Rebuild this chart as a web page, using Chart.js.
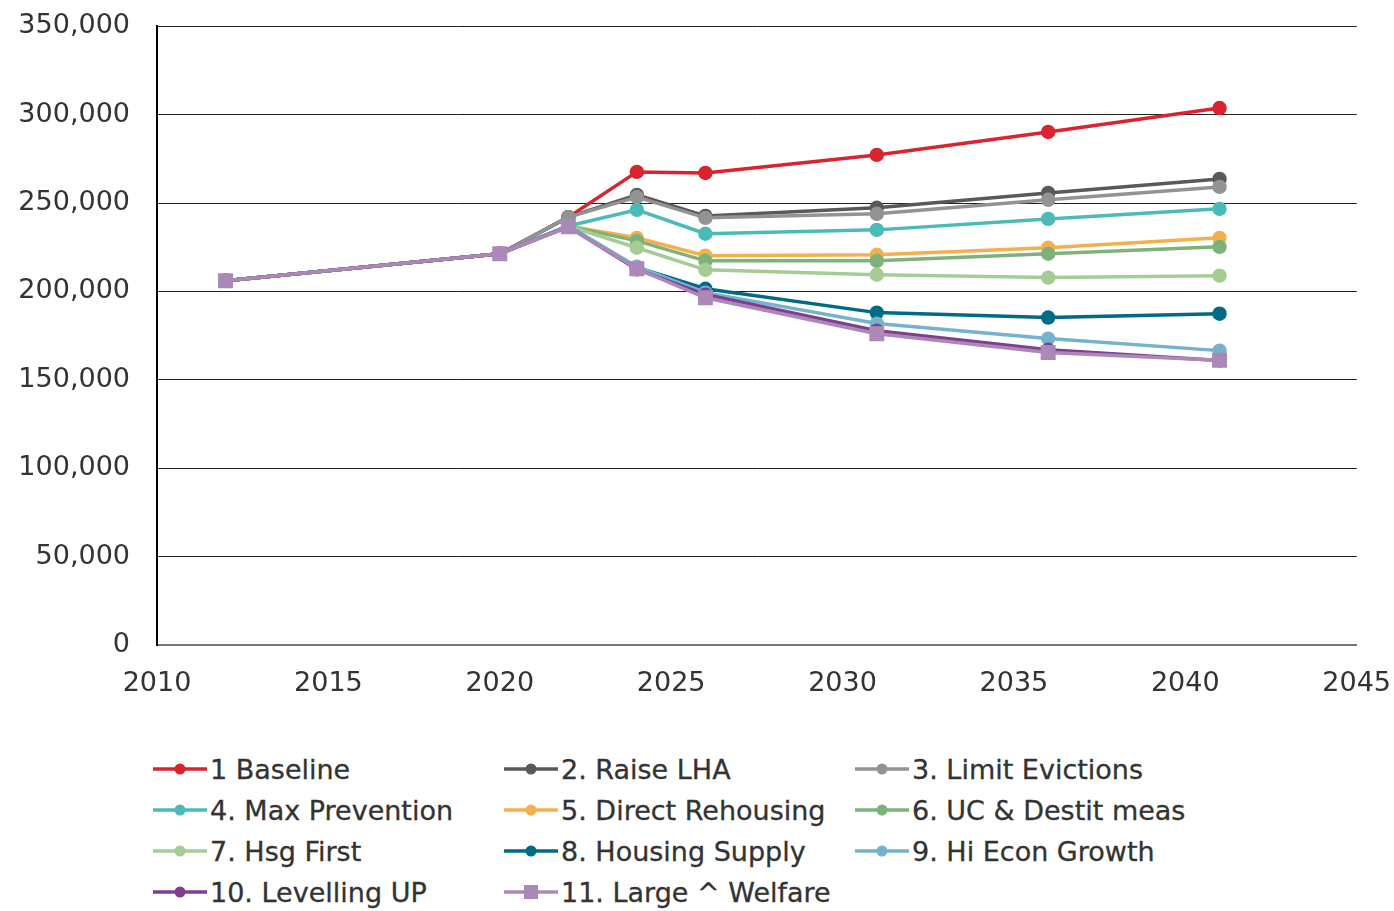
<!DOCTYPE html>
<html>
<head>
  <title>Homelessness scenarios</title>
  <script src="https://cdn.jsdelivr.net/npm/chart.js@4.4.0/dist/chart.umd.min.js"></script>
  <style>
    body { margin: 0; background: #fff; font-family: "DejaVu Sans", sans-serif; overflow: hidden; }
    #wrap { position: relative; width: 1394px; height: 911px; overflow: hidden; }
    #chart { position: absolute; left: 0; top: -17px; }
    #legend { position: absolute; left: 153px; top: 753px; display: grid; grid-template-columns: 351px 351px 351px; row-gap: 9px; }
    .item { display: flex; align-items: center; height: 32px; font-size: 27px; color: #333; white-space: nowrap; -webkit-text-stroke: 0.3px #333; }
    .item svg { margin-right: 3px; }
  </style>
</head>
<body>
<div id="wrap">
  <canvas id="chart" width="1414" height="737"></canvas>
  <div id="legend"></div>
</div>
<script>
  // years of each data point
  const years = [2012, 2020, 2022, 2024, 2026, 2031, 2036, 2041];

  const names = ['1 Baseline', '2. Raise LHA', '3. Limit Evictions', '4. Max Prevention',
    '5. Direct Rehousing', '6. UC & Destit meas', '7. Hsg First', '8. Housing Supply',
    '9. Hi Econ Growth', '10. Levelling UP', '11. Large ^ Welfare'];

  const colors = ['#d9232e', '#595959', '#939393', '#4bbbb9', '#f5b04e', '#7db37b',
    '#a5cc94', '#006a87', '#73b3cd', '#7f3f8e', '#ac88b8'];

  const baseline      = [206000, 221300, 242000, 267600, 267000, 277200, 290200, 303700];
  const raiseLHA      = [206000, 221300, 242000, 254600, 242700, 247300, 255700, 263600];
  const limitEvict    = [206000, 221300, 242000, 253400, 241600, 243900, 251800, 259100];
  const maxPrevention = [206000, 221300, 237000, 246100, 232600, 234800, 241000, 246700];
  const directRehouse = [206000, 221300, 237000, 230300, 220200, 220700, 224700, 230300];
  const ucDestit      = [206000, 221300, 237000, 228600, 217300, 217300, 221300, 225200];
  const hsgFirst      = [206000, 221300, 237000, 224700, 212200, 209400, 207800, 208900];
  const housingSupply = [206000, 221300, 237000, 213500, 201500, 188000, 185200, 187400];
  const hiEcon        = [206000, 221300, 237000, 214000, 199300, 181800, 173300, 166500];
  const levellingUp   = [206000, 221300, 236500, 212500, 198200, 177800, 167000, 160900];
  const largeWelfare  = [206000, 221300, 236500, 212800, 196400, 176100, 165500, 161000];

  const series = [baseline, raiseLHA, limitEvict, maxPrevention, directRehouse, ucDestit,
    hsgFirst, housingSupply, hiEcon, levellingUp, largeWelfare];

  const datasets = series.map((vals, i) => ({
    label: names[i],
    data: vals.map((v, j) => ({ x: years[j], y: v })),
    borderColor: colors[i],
    backgroundColor: colors[i],
    borderWidth: 3.5,
    pointStyle: i === 10 ? 'rect' : 'circle',
    pointRadius: i === 10 ? 10.6 : 7.2,
    pointBorderWidth: 0,
    order: series.length - i, // later series drawn on top
    tension: 0
  }));

  const tickFont = { family: '"DejaVu Sans", sans-serif', size: 27 };

  new Chart(document.getElementById('chart'), {
    type: 'line',
    data: { datasets },
    options: {
      responsive: false,
      animation: false,
      layout: { padding: { top: 0, right: 26, left: 0, bottom: 0 } },
      plugins: { legend: { display: false }, tooltip: { enabled: false } },
      scales: {
        x: {
          type: 'linear',
          min: 2010, max: 2045,
          ticks: { stepSize: 5, color: '#333', font: tickFont, padding: 23, callback: v => String(v) },
          grid: { display: false, drawTicks: false },
          border: { color: '#777', width: 2 },
          afterFit: s => { s.height = 75; }
        },
        y: {
          min: 0, max: 350000,
          ticks: { stepSize: 50000, color: '#333', font: tickFont, padding: 27,
            callback: v => v.toLocaleString('en-US') },
          grid: { color: '#222', lineWidth: 1, drawTicks: false },
          border: { color: '#000', width: 2 },
          afterFit: s => { s.width = 157; }
        }
      }
    }
  });

  // legend in three columns
  const legend = document.getElementById('legend');
  names.forEach((n, i) => {
    const marker = i === 10
      ? `<rect x="20" y="9" width="14" height="14" fill="${colors[i]}"/>`
      : `<circle cx="27" cy="16" r="5.5" fill="${colors[i]}"/>`;
    const div = document.createElement('div');
    div.className = 'item';
    div.innerHTML = `<svg width="54" height="32"><line x1="0" y1="16" x2="54" y2="16" stroke="${colors[i]}" stroke-width="3.5"/>${marker}</svg><span></span>`;
    div.querySelector('span').textContent = n;
    legend.appendChild(div);
  });
</script>
</body>
</html>
